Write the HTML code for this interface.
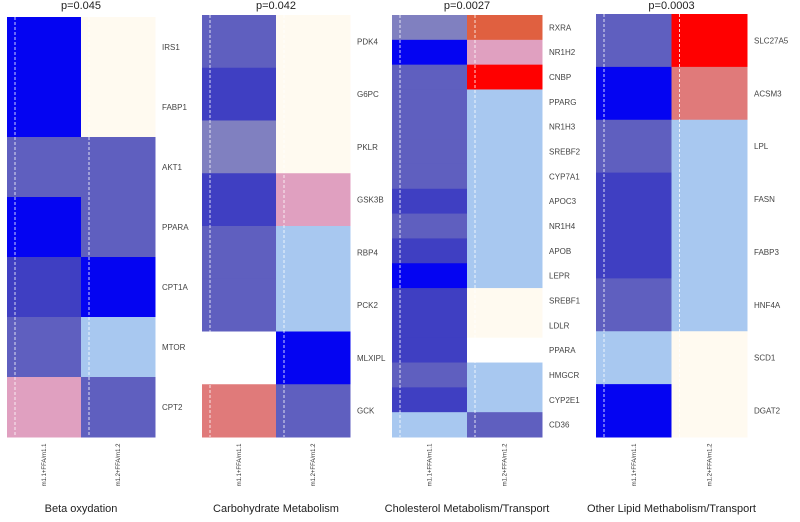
<!DOCTYPE html>
<html><head><meta charset="utf-8"><style>
body{margin:0;background:#fff;width:800px;height:517px;overflow:hidden;font-family:"Liberation Sans",sans-serif}
svg text{font-family:"Liberation Sans",sans-serif}
</style></head><body>
<svg id="chart" width="800" height="517" viewBox="0 0 800 517"></svg>
<script>
const panelTitles=["Beta oxydation","Carbohydrate Metabolism","Cholesterol Metabolism/Transport","Other Lipid Methabolism/Transport"];
const pValues=["p=0.045","p=0.042","p=0.0027","p=0.0003"];
const colLabels=["m1.1+FFA/m1.1","m1.2+FFA/m1.2"];
const genes1=["IRS1","FABP1","AKT1","PPARA","CPT1A","MTOR","CPT2"];
const col1a=[1,1,3,1,2,3,8];
const col1b=[6,6,3,3,1,5,3];
const genes2=["PDK4","G6PC","PKLR","GSK3B","RBP4","PCK2","MLXIPL","GCK"];
const col2a=[3,2,4,2,3,3,7,9];
const col2b=[6,6,6,8,5,5,1,3];
const genes3=["RXRA","NR1H2","CNBP","PPARG","NR1H3","SREBF2","CYP7A1","APOC3","NR1H4","APOB","LEPR","SREBF1","LDLR","PPARA","HMGCR","CYP2E1","CD36"];
const col3a=[4,1,3,3,3,3,3,2,3,2,1,2,2,2,3,2,5];
const col3b=[10,8,11,5,5,5,5,5,5,5,5,6,6,7,5,5,3];
const genes4=["SLC27A5","ACSM3","LPL","FASN","FABP3","HNF4A","SCD1","DGAT2"];
const col4a=[3,1,3,2,2,3,5,1];
const col4b=[11,9,5,5,5,5,6,6];

const palette=["#000","#0404f2","#3f3fc2","#5f5fbf","#8080c0","#a8c8f0","#fffaf0","#ffffff","#e0a0c0","#e07a7a","#e06040","#ff0000"];
const panels=[
 {x0:7,x1:155,y0:17,y1:437,genes:genes1,a:col1a,b:col1b},
 {x0:202,x1:350,y0:15,y1:437,genes:genes2,a:col2a,b:col2b},
 {x0:392,x1:542,y0:15,y1:437,genes:genes3,a:col3a,b:col3b},
 {x0:596,x1:747,y0:14,y1:437,genes:genes4,a:col4a,b:col4b}
];
const NS="http://www.w3.org/2000/svg";
const svg=document.getElementById('chart');
function mk(t,attrs,parent){const e=document.createElementNS(NS,t);for(const k in attrs)e.setAttribute(k,attrs[k]);(parent||svg).appendChild(e);return e;}
panels.forEach((p,pi)=>{
  const g=mk('g',{});
  
  
  const n=p.genes.length;
  const rowH=(p.y1-p.y0)/n;
  const colW=(p.x1-p.x0)/2;
  const yS=i=>p.y0+i*rowH;
  const xS=j=>p.x0+j*colW;
  [p.a,p.b].forEach((vals,j)=>{
    vals.forEach((v,i)=>{
      const r=mk('rect',{x:xS(j),y:yS(i),width:colW+0.5,height:rowH+0.5,fill:palette[v]},g);
      
      
    });
    const l=mk('line',{x1:xS(j)+8,x2:xS(j)+8,y1:p.y0,y2:p.y1,stroke:"#fff",'stroke-width':1,'stroke-dasharray':"3,2",opacity:0.8},g);
    
    
    const cx=xS(j)+colW/2;
    const t=mk('text',{x:0,y:0,'font-size':6,fill:"#333",'text-anchor':'middle',transform:`translate(${cx+2},465) rotate(-90)`},g);
    t.textContent=colLabels[j];
    
    
  });
  p.genes.forEach((gn,i)=>{
    const t=mk('text',{x:p.x1+7,y:yS(i)+rowH/2+3,'font-size':8,fill:"#444"},g);
    t.textContent=gn;
    
    
  });
  const cx=(p.x0+p.x1)/2;
  const pt=mk('text',{x:cx,y:9,'font-size':11,'text-anchor':'middle',fill:"#222"},g);
  pt.textContent=pValues[pi];
  
  
  const bt=mk('text',{x:cx,y:512,'font-size':11,'text-anchor':'middle',fill:"#222"},g);
  bt.textContent=panelTitles[pi];
  
  
});
</script>
</body></html>
